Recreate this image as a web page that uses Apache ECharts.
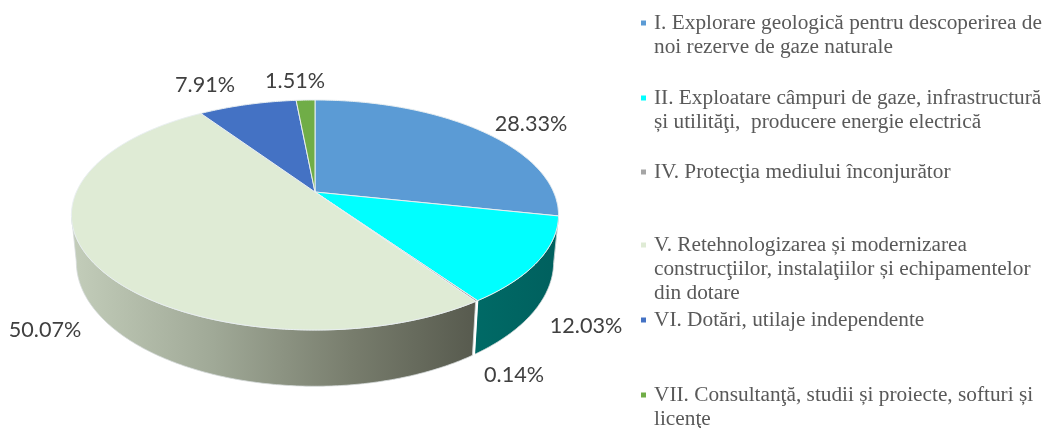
<!DOCTYPE html>
<html><head><meta charset="utf-8">
<style>html,body{margin:0;padding:0;background:#fff}#c{width:1044px;height:428px}</style>
<script src="https://cdn.jsdelivr.net/npm/echarts@6/dist/echarts.min.js"></script>
</head><body><div id="c"></div>
<script>
// --- data ---
const categories = [
  "I. Explorare geologică pentru descoperirea de\nnoi rezerve de gaze naturale",
  "II. Exploatare câmpuri de gaze, infrastructură\nși utilităţi,  producere energie electrică",
  "IV. Protecţia mediului înconjurător",
  "V. Retehnologizarea și modernizarea\nconstrucţiilor, instalaţiilor și echipamentelor\ndin dotare",
  "VI. Dotări, utilaje independente",
  "VII. Consultanţă, studii și proiecte, softuri și\nlicenţe"
];
const values = [28.33, 12.03, 0.14, 50.07, 7.91, 1.51];
const valueLabels = ["28.33%", "12.03%", "0.14%", "50.07%", "7.91%", "1.51%"];

// --- styling & layout ---
const colors = ["#5b9bd5", "#00ffff", "#a5a5a5", "#dfebd5", "#4472c4", "#70ad47"];
const wallStops = [
  [[0, "#3a6a94"], [1, "#335f85"]],
  [[0, "#006a66"], [1, "#00605e"]],
  [[0, "#ffffff"], [1, "#ffffff"]],
  [[0, "#c3cdba"], [0.35, "#a0a997"], [0.7, "#777c6c"], [1, "#575a4e"]],
  [[0, "#2a4a80"], [1, "#2a4a80"]],
  [[0, "#4a7530"], [1, "#4a7530"]]
];
const labelCenters = [[531,124],[586,326],[514,375],[45,330],[205,85],[295,81]];
const legendRows = [23, 98, 172, 245, 320, 395];
const CX = 315, CY = 192, RX = 238.6, RY = 110.4, K = 0.2, DEPTH = 45, TAPER = 0.98;

const totalValue = values.reduce((a, b) => a + b, 0);
const starts = [];
values.reduce((acc, v, i) => { starts[i] = acc; return acc + v; }, 0);
const toAngle = p => p / totalValue * 2 * Math.PI;

function proj(t) {
  const u = Math.sin(t), v = Math.cos(t);
  const d = 1 + K * v;
  return [CX + RX * u / d, CY - RY * v / d];
}
function projBottom(t) {
  const u = Math.sin(t), v = Math.cos(t), d = 1 + K * v;
  return [CX + TAPER * RX * u / d, CY - RY * v / d + DEPTH / d];
}
function arc(a, b, fn) {
  const n = Math.max(2, Math.ceil((b - a) / 0.01)), pts = [];
  for (let i = 0; i <= n; i++) pts.push(fn(a + (b - a) * i / n));
  return pts;
}
const wallFrom = Math.acos(-K), wallTo = 2 * Math.PI - Math.acos(-K);
const seriesData = values.map((v, i) => ({ name: categories[i], value: v }));

function renderWall(params, api) {
  const i = params.dataIndex, a0 = toAngle(starts[i]), a1 = a0 + toAngle(api.value(0));
  const a = Math.max(a0, wallFrom), b = Math.min(a1, wallTo);
  if (b <= a) return { type: 'group', children: [] };
  const pts = arc(a, b, proj).concat(arc(a, b, projBottom).reverse());
  const thin = i === 2;
  return {
    type: 'polygon', shape: { points: pts },
    style: {
      fill: new echarts.graphic.LinearGradient(0, 0, 1, 0,
        wallStops[i].map(s => ({ offset: s[0], color: s[1] }))),
      stroke: thin ? '#ffffff' : '#d5dadb', lineWidth: thin ? 1.6 : 0.8
    }
  };
}
function renderTop(params, api) {
  const i = params.dataIndex, a0 = toAngle(starts[i]), a1 = a0 + toAngle(api.value(0));
  const pts = [[CX, CY]].concat(arc(a0, a1, proj));
  return {
    type: 'polygon', shape: { points: pts },
    style: { fill: colors[i], stroke: '#e9eff1', lineWidth: 1 }
  };
}
function renderText(params, api) {
  const i = params.dataIndex;
  return {
    type: 'group',
    children: [
      { type: 'text', style: {
          text: valueLabels[i], x: labelCenters[i][0], y: labelCenters[i][1],
          align: 'center', verticalAlign: 'middle',
          font: '21.6px Lato, "Open Sans", sans-serif', fill: '#404040' } },
      { type: 'rect', shape: { x: 641, y: legendRows[i] - 2.5, width: 5, height: 5 },
        style: { fill: colors[i] } },
      { type: 'text', style: {
          text: categories[i], x: 654, y: legendRows[i] - 12,
          align: 'left', verticalAlign: 'top', lineHeight: 24.3,
          font: '21.3px "Liberation Serif", serif', fill: '#595959' } }
    ]
  };
}
const chart = echarts.init(document.getElementById('c'), null, { renderer: 'canvas' });
chart.setOption({
  animation: false,
  backgroundColor: '#ffffff',
  series: [
    { type: 'custom', name: 'Pereți', coordinateSystem: 'none', renderItem: renderWall, data: seriesData, z: 1, silent: true },
    { type: 'custom', name: 'Felii', coordinateSystem: 'none', renderItem: renderTop, data: seriesData, z: 2, silent: true },
    { type: 'custom', name: 'Etichete', coordinateSystem: 'none', renderItem: renderText, data: seriesData, z: 3, silent: true }
  ]
});
</script></body></html>
